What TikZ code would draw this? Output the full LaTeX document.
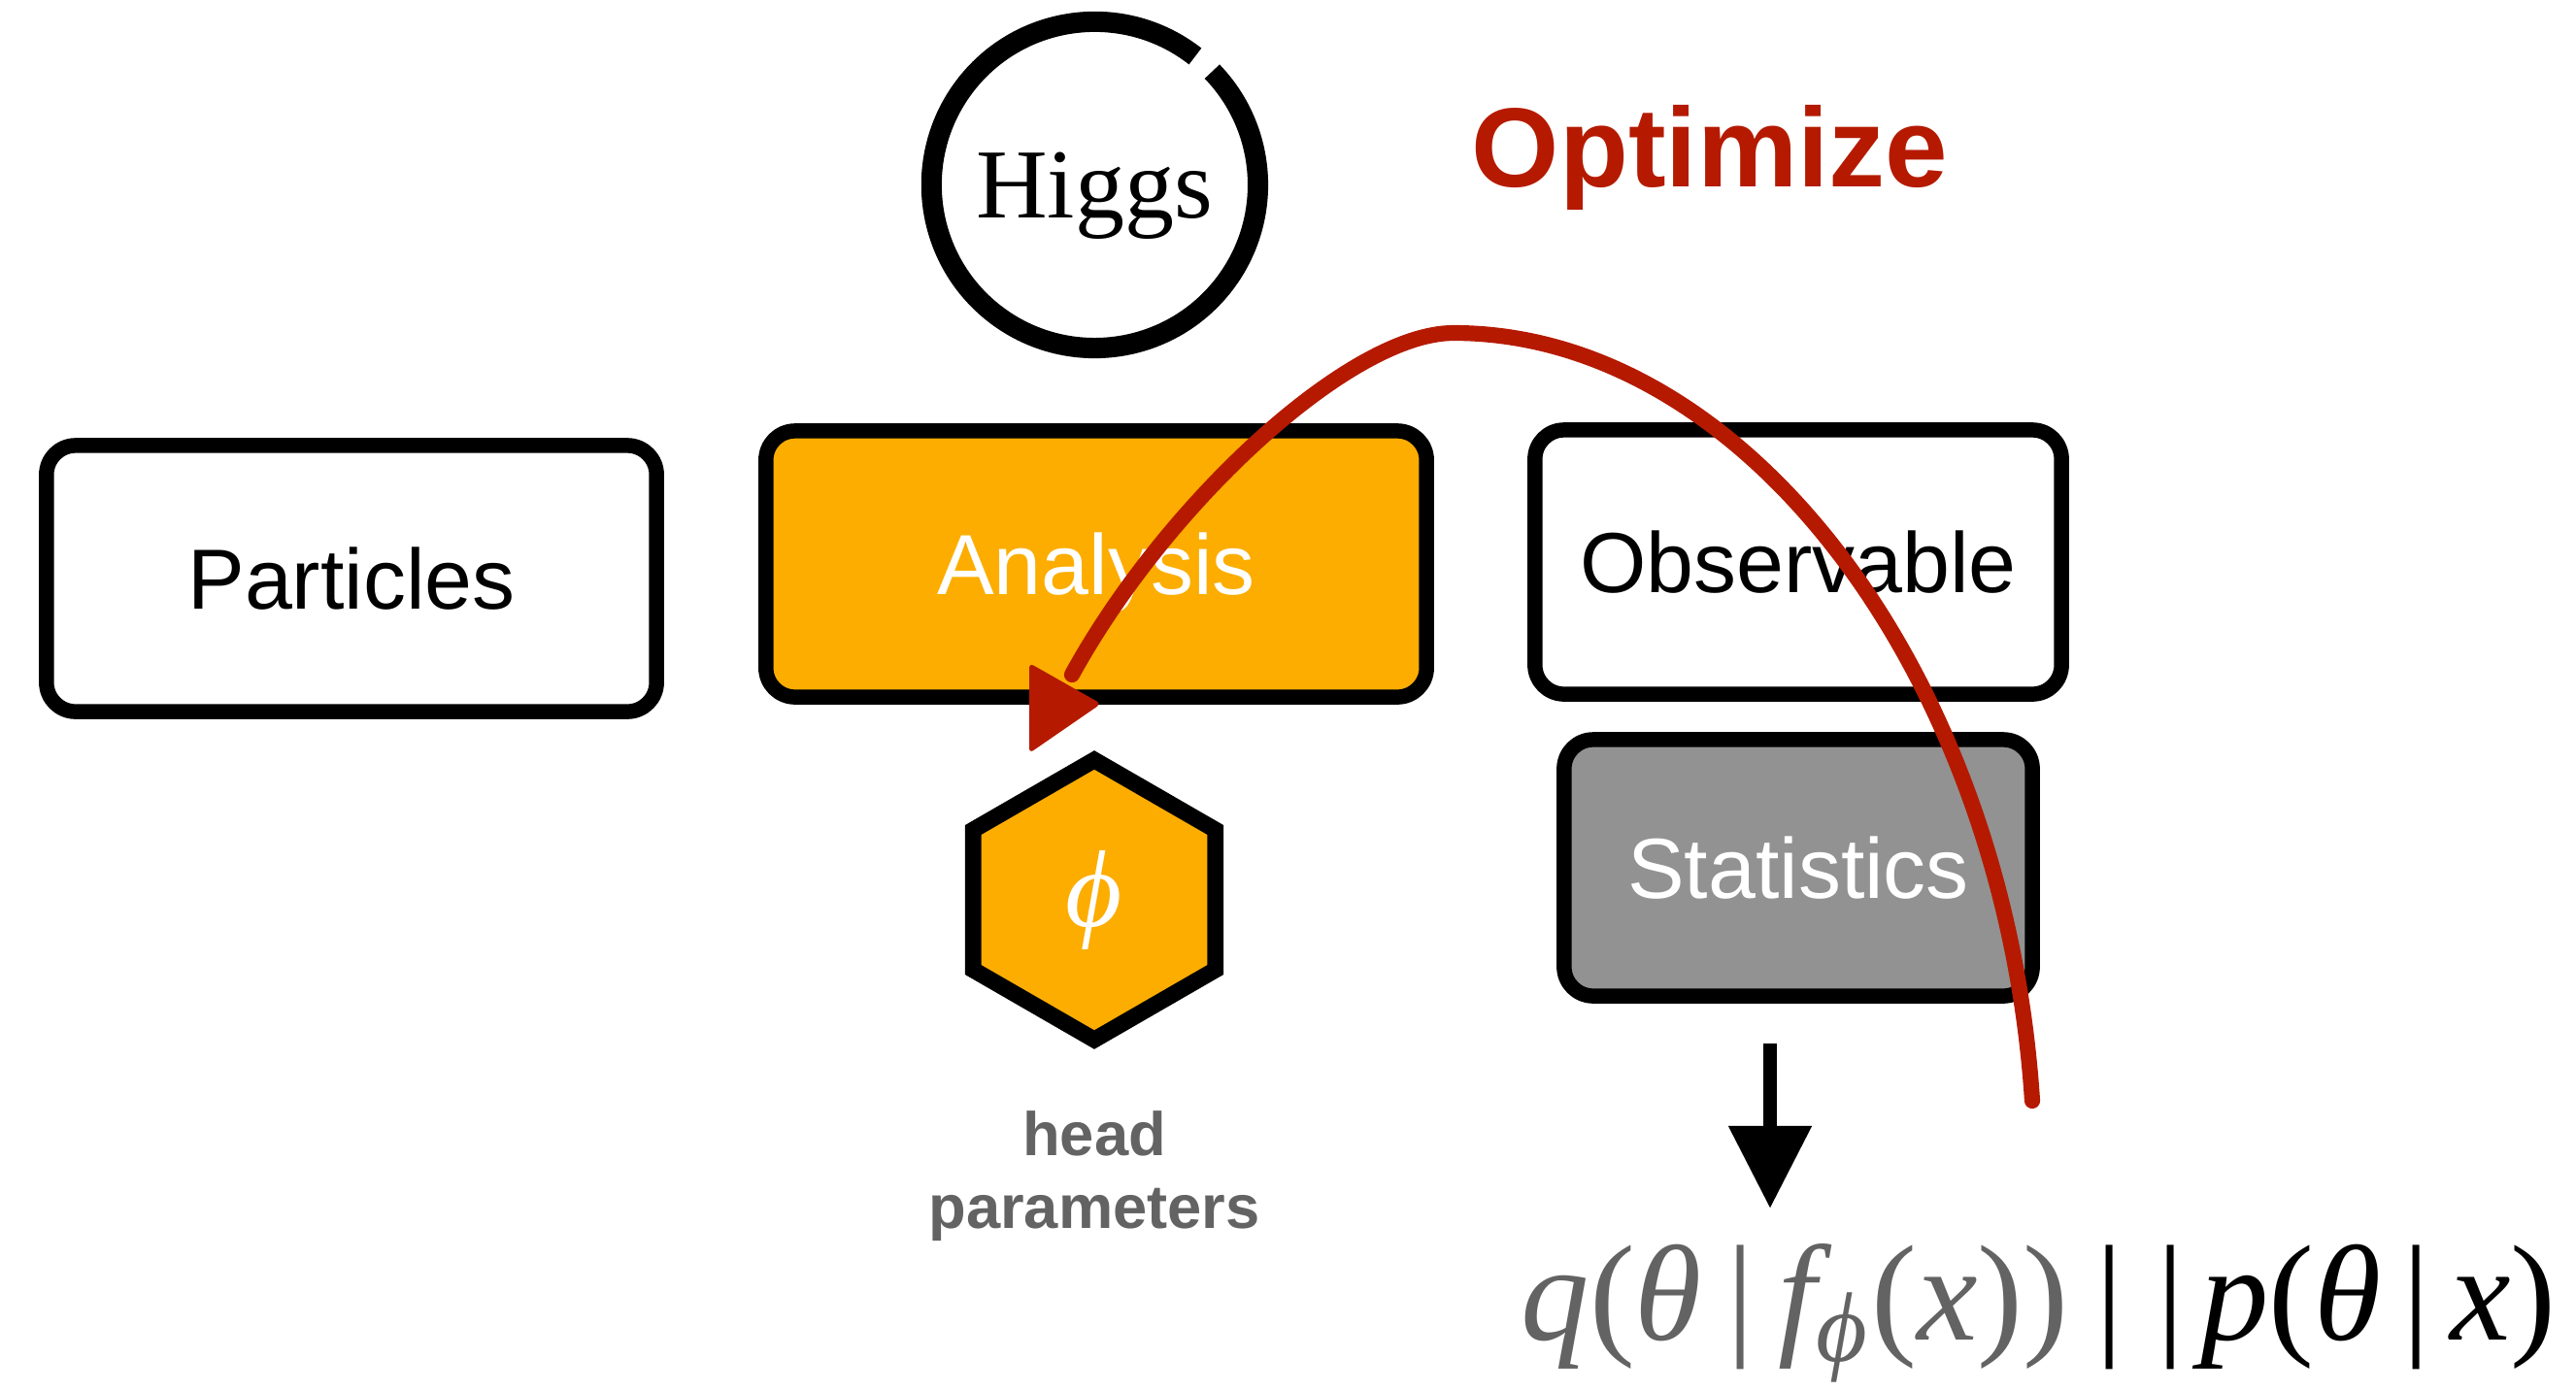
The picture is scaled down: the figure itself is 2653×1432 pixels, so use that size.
\RequirePackage{fix-cm}
\documentclass[tikz,border=0pt]{standalone}
\usepackage{fontspec}
\setmainfont{Liberation Sans}
\newfontfamily\tms{Liberation Serif}
\usetikzlibrary{shapes.geometric,arrows.meta}
\definecolor{boxorange}{HTML}{FCAD00}
\definecolor{optred}{HTML}{B51A00}
\definecolor{statgray}{HTML}{929292}
\definecolor{labelgray}{HTML}{636363}
\newcommand{\mi}[1]{\textit{#1}}
\begin{document}
\begin{tikzpicture}[x=0.01cm,y=-0.01cm,
  stage/.style={draw=black, line width=4.4pt, rounded corners=0.3cm, inner sep=0pt,
    font=\fontsize{25}{30}\selectfont, text height=18pt, text depth=0pt},
  param/.style={regular polygon, regular polygon sides=6, shape border rotate=30,
    draw=black, line width=4.8pt, fill=boxorange, inner sep=0pt, minimum size=2.88cm,
    text=white, font=\tms\itshape\fontsize{32}{34}\selectfont},
  caption/.style={text=labelgray, font=\bfseries\fontsize{18}{21.3}\selectfont, align=center, inner sep=0pt},
  optpath/.style={draw=optred, line width=4.6pt, line cap=round},
  sumarrow/.style={line width=4.2pt, -{Triangle[width=0.82cm,length=0.85cm]}}]
\useasboundingbox (0,0) rectangle (2653,1432);

% pipeline stages
\node[stage, minimum width=6.28cm, minimum height=2.74cm] (particles) at (362,596) {Particles};
\node[stage, fill=boxorange, text=white, minimum width=6.80cm, minimum height=2.74cm] (analysis) at (1129,581) {Analysis};
\node[stage, minimum width=5.42cm, minimum height=2.72cm] (observable) at (1852,579) {Observable};
\node[stage, fill=statgray, text=white, minimum width=4.82cm, minimum height=2.64cm] (stats) at (1852,894) {Statistics};

% Higgs ring, open at the upper right
\node[circle, minimum size=3.36cm, inner sep=0pt, font=\tms\fontsize{29}{30}\selectfont,
  text height=19.2pt, text depth=0pt] (higgs) at (1127,191) {Higgs};
\draw[line width=6pt] (higgs.52) arc[start angle=52, end angle=404, radius=1.68cm];

\node[anchor=base, text=optred, font=\bfseries\fontsize{33}{36}\selectfont] (opt) at (1761,192) {Optimize};

% trainable head parameters
\node[param] (phi) at (1127,927) {ϕ};
\node[caption, anchor=north] (headcap) at (1127,1144) {head\\parameters};

% loss
\node[anchor=base west, inner sep=0pt, font=\tms\fontsize{40}{42}\selectfont] (kl) at (1566,1380)
  {\color{labelgray}\mi{q}(\mi{θ}\hspace{0.18em}|\hspace{0.18em}\mi{f}\kern-0.12em\raisebox{-6.5pt}{\fontsize{29}{29}\selectfont\mi{ϕ}}\kern0.03em(\mi{x}))\color{black}\hspace{0.2em}|\hspace{0.25em}|\hspace{0.12em}\mi{p}(\mi{θ}\hspace{0.15em}|\hspace{0.15em}\mi{x})};

\coordinate (sumTop) at (1823,1075);
\coordinate (sumTip) at (1823,1245);
\draw[sumarrow] (sumTop) -- (sumTip);

% optimisation feedback loop
\coordinate (optFrom) at (2093,1134);
\coordinate (optTop) at (1497,343);
\coordinate (optTo) at (1104,695);
\draw[optpath] (optFrom) .. controls (2065,700) and (1800,343) .. (optTop)
  .. controls (1390,343) and (1200,520) .. (optTo);
\fill[optred, rounded corners=1.5pt] (1060,683) -- (1060,776) -- (1134,725) -- cycle;
\end{tikzpicture}
\end{document}
